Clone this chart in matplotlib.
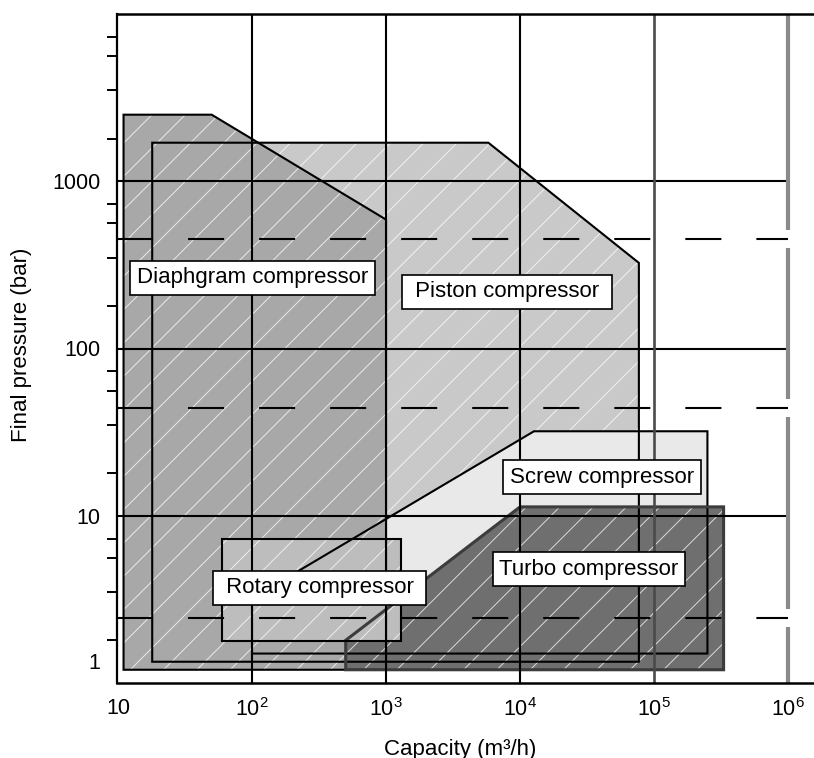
import numpy as np
import matplotlib
matplotlib.use("Agg")
import matplotlib.pyplot as plt
import matplotlib.transforms as mtransforms
from matplotlib.patches import Polygon
from matplotlib.ticker import FixedLocator, FixedFormatter, NullFormatter

plt.rcParams['font.family'] = ['Liberation Sans', 'DejaVu Sans']
plt.rcParams['mathtext.fontset'] = 'custom'
plt.rcParams['mathtext.rm'] = 'Liberation Sans'
plt.rcParams['mathtext.it'] = 'Liberation Sans:italic'
plt.rcParams['mathtext.default'] = 'regular'
plt.rcParams['hatch.linewidth'] = 0.7

# Operating envelopes: capacity (m3/h) vs final pressure (bar)
diaphragm_capacity = [11, 11, 50, 1000, 1000]
diaphragm_pressure = [1.2, 2500, 2500, 590, 1.2]

piston_capacity = [18, 18, 5800, 77000, 77000]
piston_pressure = [1.34, 1700, 1700, 325, 1.34]

screw_capacity = [100, 100, 12700, 250000, 250000]
screw_pressure = [1.5, 3.2, 32, 32, 1.5]

rotary_capacity = [60, 60, 1300, 1300]
rotary_pressure = [1.78, 7.3, 7.3, 1.78]

turbo_capacity = [500, 500, 10000, 330000, 330000]
turbo_pressure = [1.2, 1.8, 11.3, 11.3, 1.2]

# Region names and where their tags sit
region_names = ["Diaphgram compressor", "Piston compressor", "Screw compressor",
                "Rotary compressor", "Turbo compressor"]
tag_capacity = [101, 8000, 41000, 320, 32700]
tag_pressure = [264, 218, 17, 3.7, 4.8]

# Axis ticks and grid
x_ticks = [10, 1e2, 1e3, 1e4, 1e5, 1e6]
x_tick_labels = ["10", "$10^2$", "$10^3$", "$10^4$", "$10^5$", "$10^6$"]
y_ticks = [1, 10, 100, 1000]
y_tick_labels = ["1", "10", "100", "1000"]
y_minor_steps = [1.8, 3.5, 5.6, 7.3]
grid_pressure = [10, 100, 1000]
dashed_pressure = [2.45, 44, 452]
grid_capacity_black = [1e2, 1e3, 1e4]
grid_capacity_dark = [1e5]
grid_capacity_light = [1e6]

fig = plt.figure(figsize=(8.14, 7.58), dpi=100)
ax = fig.add_axes([117 / 814, 75 / 758, 697 / 814, 669 / 758])
ax.set_xscale("log")
ax.set_yscale("log")
ax.set_xlim(9.83, 1.56e6)
ax.set_ylim(1.0, 1e4)

# (capacity, pressure, fill, hatched, edge colour, edge width, stacking)
regions = [
    (piston_capacity, piston_pressure, "#c9c9c9", True, "black", 1.5, 1.0),
    (screw_capacity, screw_pressure, "#e9e9e9", False, "black", 1.5, 1.05),
    (diaphragm_capacity, diaphragm_pressure, "#a8a8a8", True, "black", 1.5, 1.1),
    (turbo_capacity, turbo_pressure, "#6f6f6f", True, "#3c3c3c", 2.2, 1.2),
    (rotary_capacity, rotary_pressure, "#bdbdbd", True, "black", 1.5, 1.3),
]

for cap, pres, color, hatched, ec, elw, z in regions:
    pts = np.column_stack([cap, pres])
    ax.add_patch(Polygon(pts, closed=True, facecolor=color, edgecolor="none",
                         lw=0, zorder=z))
    if hatched:
        ax.add_patch(Polygon(pts, closed=True, facecolor="none",
                             edgecolor=(1, 1, 1, 0.75), hatch="/", lw=0,
                             zorder=z + 0.01))

# Outlines of every envelope stay visible through overlapping fills
for cap, pres, color, hatched, ec, elw, z in regions:
    pts = np.column_stack([cap, pres])
    ax.add_patch(Polygon(pts, closed=True, facecolor="none", edgecolor=ec,
                         lw=elw, zorder=2.0))

# Grid
x0 = ax.get_xlim()[0]
ax.hlines(grid_pressure, x0, 1e6, colors="black", lw=1.5, zorder=2.2)
ax.hlines(dashed_pressure, x0, 1e6, colors="black", lw=1.5,
          linestyles=[(0, (17.3, 16.8))], zorder=2.2)
ax.vlines(grid_capacity_black, 1.0, 1e4, colors="black", lw=1.5, zorder=2.2)
ax.vlines(grid_capacity_dark, 1.0, 1e4, colors="#4a4a4a", lw=1.9, zorder=2.2)

# The right-most decade line is interrupted where the dashed lines meet it
gap = 0.055
edges = [0.0]
for p in dashed_pressure:
    edges += [np.log10(p) - gap, np.log10(p) + gap]
edges.append(4.0)
for lo, hi in zip(edges[::2], edges[1::2]):
    ax.vlines(grid_capacity_light, 10 ** lo, 10 ** hi, colors="#8a8a8a",
              lw=3.0, zorder=2.2)

# Region tags
for name, cx, cy in zip(region_names, tag_capacity, tag_pressure):
    text = name
    if name.startswith("Piston") or name.startswith("Rotary"):
        text = " " + name + " "
    ax.text(cx, cy, text, fontsize=16, ha="center", va="center", zorder=5,
            bbox=dict(boxstyle="square,pad=0.3", fc="white", ec="black",
                      lw=1.2))

# Axes frame
ax.spines["right"].set_visible(False)
ax.spines["left"].set_linewidth(1.6)
ax.spines["top"].set_linewidth(1.8)
ax.spines["bottom"].set_linewidth(1.8)

ax.xaxis.set_major_locator(FixedLocator(x_ticks))
ax.xaxis.set_major_formatter(FixedFormatter(x_tick_labels))
ax.xaxis.set_minor_locator(FixedLocator([]))
ax.yaxis.set_major_locator(FixedLocator(y_ticks))
ax.yaxis.set_major_formatter(FixedFormatter(y_tick_labels))
y_minor = [m * 10 ** e for e in range(4) for m in y_minor_steps]
ax.yaxis.set_minor_locator(FixedLocator(y_minor))
ax.yaxis.set_minor_formatter(NullFormatter())

ax.tick_params(axis="x", which="major", length=0, pad=11, labelsize=15.5)
ax.tick_params(axis="y", which="major", length=0, pad=12, labelsize=15.5)
ax.tick_params(axis="y", which="minor", direction="out", length=7, width=1.4,
               color="black")

ax.set_xlabel("Capacity (m³/h)", fontsize=16)
ax.set_ylabel("Final pressure (bar)", fontsize=16)
ax.xaxis.set_label_coords(0.492, -0.083)
ax.yaxis.set_label_coords(-0.122, 0.505)

# Lift the lowest pressure label clear of the capacity labels
fig.canvas.draw()
for tick in ax.yaxis.get_major_ticks():
    if tick.label1.get_text() == "1":
        tick.label1.set_transform(tick.label1.get_transform() +
                                  mtransforms.ScaledTranslation(0, 0.22, fig.dpi_scale_trans))

fig.savefig("out.png", dpi=100)
